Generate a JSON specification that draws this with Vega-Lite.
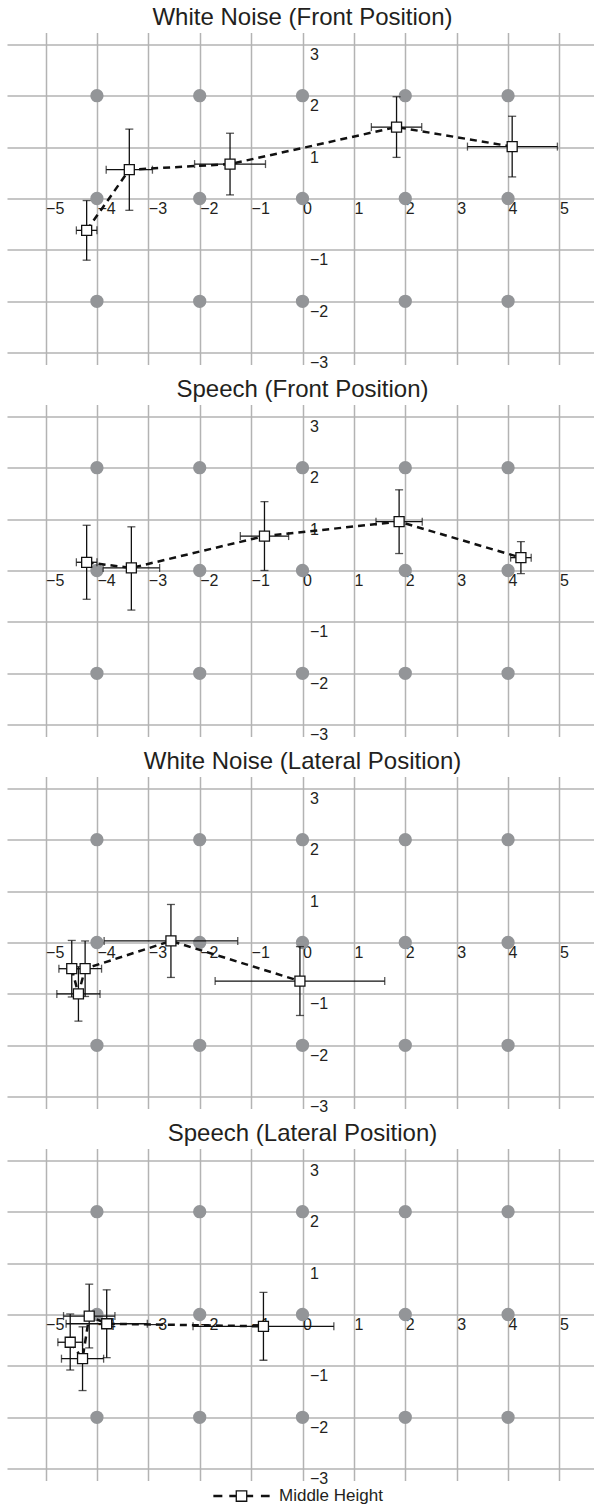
{
  "$schema": "https://vega.github.io/schema/vega-lite/v6.json",
  "padding": {"left": 7, "top": 5.5, "right": 0, "bottom": 0},
  "spacing": 6,
  "datasets": {
    "refdots": [
      {"x": -4, "y": 2}, {"x": -2, "y": 2}, {"x": 0, "y": 2}, {"x": 2, "y": 2}, {"x": 4, "y": 2},
      {"x": -4, "y": 0}, {"x": -2, "y": 0}, {"x": 0, "y": 0}, {"x": 2, "y": 0}, {"x": 4, "y": 0},
      {"x": -4, "y": -2}, {"x": -2, "y": -2}, {"x": 0, "y": -2}, {"x": 2, "y": -2}, {"x": 4, "y": -2}
    ],
    "pts": [
      {"panel": "WNF", "series": "Middle Height", "ord": 1, "x": -4.20, "y": -0.62, "xlo": -4.40, "xhi": -4.00, "ylo": -1.20, "yhi": -0.04},
      {"panel": "WNF", "series": "Middle Height", "ord": 2, "x": -3.37, "y": 0.56, "xlo": -3.82, "xhi": -2.92, "ylo": -0.23, "yhi": 1.35},
      {"panel": "WNF", "series": "Middle Height", "ord": 3, "x": -1.41, "y": 0.67, "xlo": -2.10, "xhi": -0.72, "ylo": 0.07, "yhi": 1.27},
      {"panel": "WNF", "series": "Middle Height", "ord": 4, "x": 1.83, "y": 1.39, "xlo": 1.34, "xhi": 2.32, "ylo": 0.80, "yhi": 1.98},
      {"panel": "WNF", "series": "Middle Height", "ord": 5, "x": 4.08, "y": 1.01, "xlo": 3.21, "xhi": 4.96, "ylo": 0.42, "yhi": 1.60},
      {"panel": "SF", "series": "Middle Height", "ord": 1, "x": -4.20, "y": 0.16, "xlo": -4.40, "xhi": -4.00, "ylo": -0.56, "yhi": 0.88},
      {"panel": "SF", "series": "Middle Height", "ord": 2, "x": -3.33, "y": 0.05, "xlo": -3.88, "xhi": -2.78, "ylo": -0.77, "yhi": 0.85},
      {"panel": "SF", "series": "Middle Height", "ord": 3, "x": -0.74, "y": 0.67, "xlo": -1.21, "xhi": -0.27, "ylo": 0.00, "yhi": 1.34},
      {"panel": "SF", "series": "Middle Height", "ord": 4, "x": 1.88, "y": 0.95, "xlo": 1.43, "xhi": 2.33, "ylo": 0.33, "yhi": 1.57},
      {"panel": "SF", "series": "Middle Height", "ord": 5, "x": 4.25, "y": 0.25, "xlo": 4.05, "xhi": 4.45, "ylo": -0.06, "yhi": 0.56},
      {"panel": "WNL", "series": "Middle Height", "ord": 1, "x": -4.49, "y": -0.51, "xlo": -4.74, "xhi": -4.24, "ylo": -1.06, "yhi": 0.04},
      {"panel": "WNL", "series": "Middle Height", "ord": 2, "x": -4.36, "y": -1.00, "xlo": -4.78, "xhi": -3.94, "ylo": -1.53, "yhi": -0.47},
      {"panel": "WNL", "series": "Middle Height", "ord": 3, "x": -4.23, "y": -0.51, "xlo": -4.55, "xhi": -3.91, "ylo": -1.05, "yhi": 0.03},
      {"panel": "WNL", "series": "Middle Height", "ord": 4, "x": -2.56, "y": 0.03, "xlo": -3.86, "xhi": -1.26, "ylo": -0.68, "yhi": 0.74},
      {"panel": "WNL", "series": "Middle Height", "ord": 5, "x": -0.05, "y": -0.75, "xlo": -1.70, "xhi": 1.60, "ylo": -1.42, "yhi": -0.08},
      {"panel": "SL", "series": "Middle Height", "ord": 1, "x": -4.52, "y": -0.54, "xlo": -4.76, "xhi": -4.28, "ylo": -1.08, "yhi": 0.01},
      {"panel": "SL", "series": "Middle Height", "ord": 2, "x": -4.28, "y": -0.86, "xlo": -4.69, "xhi": -3.87, "ylo": -1.48, "yhi": -0.24},
      {"panel": "SL", "series": "Middle Height", "ord": 3, "x": -4.15, "y": -0.03, "xlo": -4.65, "xhi": -3.65, "ylo": -0.65, "yhi": 0.59},
      {"panel": "SL", "series": "Middle Height", "ord": 4, "x": -3.81, "y": -0.18, "xlo": -4.60, "xhi": -3.02, "ylo": -0.84, "yhi": 0.48},
      {"panel": "SL", "series": "Middle Height", "ord": 5, "x": -0.76, "y": -0.23, "xlo": -2.13, "xhi": 0.61, "ylo": -0.89, "yhi": 0.43}
    ]
  },
  "vconcat": [
    {
      "title": "White Noise (Front Position)",
      "width": 591, "height": 332,
      "resolve": {"axis": {"x": "independent", "y": "independent"}},
      "layer": [
        {"data": {"name": "refdots"}, "mark": {"type": "circle", "size": 177, "color": "#939598", "opacity": 1},
         "encoding": {
           "x": {"field": "x", "type": "quantitative", "title": null, "scale": {"domain": [-5.75, 5.75], "nice": false, "zero": false}, "axis": {"orient": "bottom", "grid": true, "labels": false, "offset": 0, "tickCount": 11}},
           "y": {"field": "y", "type": "quantitative", "title": null, "scale": {"domain": [-3.23, 3.23], "nice": false, "zero": false}, "axis": {"orient": "left", "grid": true, "labels": false, "offset": 0, "tickCount": 7}}}},
        {"data": {"name": "pts"}, "transform": [{"filter": "datum.panel == 'WNF'"}],
         "mark": {"type": "errorbar", "ticks": {"size": 8}, "thickness": 1.3, "color": "#111"},
         "encoding": {"x": {"field": "xlo", "type": "quantitative", "title": null, "axis": null}, "x2": {"field": "xhi"}, "y": {"field": "y", "type": "quantitative", "title": null, "axis": null}}},
        {"data": {"name": "pts"}, "transform": [{"filter": "datum.panel == 'WNF'"}],
         "mark": {"type": "errorbar", "ticks": {"size": 8}, "thickness": 1.3, "color": "#111"},
         "encoding": {"y": {"field": "ylo", "type": "quantitative", "title": null, "axis": null}, "y2": {"field": "yhi"}, "x": {"field": "x", "type": "quantitative", "title": null, "axis": null}}},
        {"data": {"name": "pts"}, "transform": [{"filter": "datum.panel == 'WNF'"}],
         "mark": {"type": "line", "strokeDash": [7, 5], "strokeWidth": 2.5, "color": "#111"},
         "encoding": {"x": {"field": "x", "type": "quantitative", "title": null, "axis": null}, "y": {"field": "y", "type": "quantitative", "title": null, "axis": null}, "order": {"field": "ord", "type": "quantitative"}}},
        {"data": {"name": "pts"}, "transform": [{"filter": "datum.panel == 'WNF'"}],
         "mark": {"type": "square", "size": 100, "filled": true, "fill": "white", "stroke": "#111", "strokeWidth": 1.3, "opacity": 1},
         "encoding": {
           "x": {"field": "x", "type": "quantitative", "title": null, "axis": {"orient": "bottom", "grid": false, "offset": -166, "tickCount": 11}},
           "y": {"field": "y", "type": "quantitative", "title": null, "axis": {"orient": "left", "grid": false, "offset": -295.5, "tickCount": 7, "labelOffset": 15, "labelExpr": "datum.value == 0 ? '' : datum.label"}}}}
      ]
    },
    {
      "title": "Speech (Front Position)",
      "width": 591, "height": 332,
      "resolve": {"axis": {"x": "independent", "y": "independent"}},
      "layer": [
        {"data": {"name": "refdots"}, "mark": {"type": "circle", "size": 177, "color": "#939598", "opacity": 1},
         "encoding": {
           "x": {"field": "x", "type": "quantitative", "title": null, "scale": {"domain": [-5.75, 5.75], "nice": false, "zero": false}, "axis": {"orient": "bottom", "grid": true, "labels": false, "offset": 0, "tickCount": 11}},
           "y": {"field": "y", "type": "quantitative", "title": null, "scale": {"domain": [-3.23, 3.23], "nice": false, "zero": false}, "axis": {"orient": "left", "grid": true, "labels": false, "offset": 0, "tickCount": 7}}}},
        {"data": {"name": "pts"}, "transform": [{"filter": "datum.panel == 'SF'"}],
         "mark": {"type": "errorbar", "ticks": {"size": 8}, "thickness": 1.3, "color": "#111"},
         "encoding": {"x": {"field": "xlo", "type": "quantitative", "title": null, "axis": null}, "x2": {"field": "xhi"}, "y": {"field": "y", "type": "quantitative", "title": null, "axis": null}}},
        {"data": {"name": "pts"}, "transform": [{"filter": "datum.panel == 'SF'"}],
         "mark": {"type": "errorbar", "ticks": {"size": 8}, "thickness": 1.3, "color": "#111"},
         "encoding": {"y": {"field": "ylo", "type": "quantitative", "title": null, "axis": null}, "y2": {"field": "yhi"}, "x": {"field": "x", "type": "quantitative", "title": null, "axis": null}}},
        {"data": {"name": "pts"}, "transform": [{"filter": "datum.panel == 'SF'"}],
         "mark": {"type": "line", "strokeDash": [7, 5], "strokeWidth": 2.5, "color": "#111"},
         "encoding": {"x": {"field": "x", "type": "quantitative", "title": null, "axis": null}, "y": {"field": "y", "type": "quantitative", "title": null, "axis": null}, "order": {"field": "ord", "type": "quantitative"}}},
        {"data": {"name": "pts"}, "transform": [{"filter": "datum.panel == 'SF'"}],
         "mark": {"type": "square", "size": 100, "filled": true, "fill": "white", "stroke": "#111", "strokeWidth": 1.3, "opacity": 1},
         "encoding": {
           "x": {"field": "x", "type": "quantitative", "title": null, "axis": {"orient": "bottom", "grid": false, "offset": -166, "tickCount": 11}},
           "y": {"field": "y", "type": "quantitative", "title": null, "axis": {"orient": "left", "grid": false, "offset": -295.5, "tickCount": 7, "labelOffset": 15, "labelExpr": "datum.value == 0 ? '' : datum.label"}}}}
      ]
    },
    {
      "title": "White Noise (Lateral Position)",
      "width": 591, "height": 332,
      "resolve": {"axis": {"x": "independent", "y": "independent"}},
      "layer": [
        {"data": {"name": "refdots"}, "mark": {"type": "circle", "size": 177, "color": "#939598", "opacity": 1},
         "encoding": {
           "x": {"field": "x", "type": "quantitative", "title": null, "scale": {"domain": [-5.75, 5.75], "nice": false, "zero": false}, "axis": {"orient": "bottom", "grid": true, "labels": false, "offset": 0, "tickCount": 11}},
           "y": {"field": "y", "type": "quantitative", "title": null, "scale": {"domain": [-3.23, 3.23], "nice": false, "zero": false}, "axis": {"orient": "left", "grid": true, "labels": false, "offset": 0, "tickCount": 7}}}},
        {"data": {"name": "pts"}, "transform": [{"filter": "datum.panel == 'WNL'"}],
         "mark": {"type": "errorbar", "ticks": {"size": 8}, "thickness": 1.3, "color": "#111"},
         "encoding": {"x": {"field": "xlo", "type": "quantitative", "title": null, "axis": null}, "x2": {"field": "xhi"}, "y": {"field": "y", "type": "quantitative", "title": null, "axis": null}}},
        {"data": {"name": "pts"}, "transform": [{"filter": "datum.panel == 'WNL'"}],
         "mark": {"type": "errorbar", "ticks": {"size": 8}, "thickness": 1.3, "color": "#111"},
         "encoding": {"y": {"field": "ylo", "type": "quantitative", "title": null, "axis": null}, "y2": {"field": "yhi"}, "x": {"field": "x", "type": "quantitative", "title": null, "axis": null}}},
        {"data": {"name": "pts"}, "transform": [{"filter": "datum.panel == 'WNL'"}],
         "mark": {"type": "line", "strokeDash": [7, 5], "strokeWidth": 2.5, "color": "#111"},
         "encoding": {"x": {"field": "x", "type": "quantitative", "title": null, "axis": null}, "y": {"field": "y", "type": "quantitative", "title": null, "axis": null}, "order": {"field": "ord", "type": "quantitative"}}},
        {"data": {"name": "pts"}, "transform": [{"filter": "datum.panel == 'WNL'"}],
         "mark": {"type": "square", "size": 100, "filled": true, "fill": "white", "stroke": "#111", "strokeWidth": 1.3, "opacity": 1},
         "encoding": {
           "x": {"field": "x", "type": "quantitative", "title": null, "axis": {"orient": "bottom", "grid": false, "offset": -166, "tickCount": 11}},
           "y": {"field": "y", "type": "quantitative", "title": null, "axis": {"orient": "left", "grid": false, "offset": -295.5, "tickCount": 7, "labelOffset": 15, "labelExpr": "datum.value == 0 ? '' : datum.label"}}}}
      ]
    },
    {
      "title": "Speech (Lateral Position)",
      "width": 591, "height": 332,
      "resolve": {"axis": {"x": "independent", "y": "independent"}},
      "layer": [
        {"data": {"name": "refdots"}, "mark": {"type": "circle", "size": 177, "color": "#939598", "opacity": 1},
         "encoding": {
           "x": {"field": "x", "type": "quantitative", "title": null, "scale": {"domain": [-5.75, 5.75], "nice": false, "zero": false}, "axis": {"orient": "bottom", "grid": true, "labels": false, "offset": 0, "tickCount": 11}},
           "y": {"field": "y", "type": "quantitative", "title": null, "scale": {"domain": [-3.23, 3.23], "nice": false, "zero": false}, "axis": {"orient": "left", "grid": true, "labels": false, "offset": 0, "tickCount": 7}}}},
        {"data": {"name": "pts"}, "transform": [{"filter": "datum.panel == 'SL'"}],
         "mark": {"type": "errorbar", "ticks": {"size": 8}, "thickness": 1.3, "color": "#111"},
         "encoding": {"x": {"field": "xlo", "type": "quantitative", "title": null, "axis": null}, "x2": {"field": "xhi"}, "y": {"field": "y", "type": "quantitative", "title": null, "axis": null}}},
        {"data": {"name": "pts"}, "transform": [{"filter": "datum.panel == 'SL'"}],
         "mark": {"type": "errorbar", "ticks": {"size": 8}, "thickness": 1.3, "color": "#111"},
         "encoding": {"y": {"field": "ylo", "type": "quantitative", "title": null, "axis": null}, "y2": {"field": "yhi"}, "x": {"field": "x", "type": "quantitative", "title": null, "axis": null}}},
        {"data": {"name": "pts"}, "transform": [{"filter": "datum.panel == 'SL'"}],
         "mark": {"type": "line", "strokeDash": [7, 5], "strokeWidth": 2.5},
         "encoding": {
           "x": {"field": "x", "type": "quantitative", "title": null, "axis": null},
           "y": {"field": "y", "type": "quantitative", "title": null, "axis": null},
           "order": {"field": "ord", "type": "quantitative"},
           "stroke": {"field": "series", "type": "nominal", "scale": {"range": ["#111111"]},
             "legend": {
               "title": null, "orient": "none", "legendX": 206, "legendY": 1435,
               "symbolType": "M-1,-0.025H-0.72V0.025H-1Z M-0.42,-0.025H-0.19V0.025H-0.42Z M0.19,-0.025H0.4V0.025H0.19Z M0.73,-0.025H1V0.025H0.73Z M-0.19,-0.19H0.19V0.19H-0.19Z",
               "symbolSize": 3025, "symbolStrokeWidth": 1.3, "symbolFillColor": "white", "symbolStrokeColor": "#111111",
               "labelFontSize": 17, "labelFont": "Liberation Sans", "labelColor": "#231f20", "labelOffset": 9,
               "encode": {"symbols": {"update": {"strokeDash": {"value": []}, "fill": {"value": "white"}, "stroke": {"value": "#111111"}, "strokeWidth": {"value": 1.3}, "opacity": {"value": 1}}}}
             }}
         }},
        {"data": {"name": "pts"}, "transform": [{"filter": "datum.panel == 'SL'"}],
         "mark": {"type": "square", "size": 100, "filled": true, "fill": "white", "stroke": "#111", "strokeWidth": 1.3, "opacity": 1},
         "encoding": {
           "x": {"field": "x", "type": "quantitative", "title": null, "axis": {"orient": "bottom", "grid": false, "offset": -166, "tickCount": 11}},
           "y": {"field": "y", "type": "quantitative", "title": null, "axis": {"orient": "left", "grid": false, "offset": -295.5, "tickCount": 7, "labelOffset": 15, "labelExpr": "datum.value == 0 ? '' : datum.label"}}}}
      ]
    }
  ],
  "config": {
    "view": {"stroke": null},
    "font": "Liberation Sans",
    "title": {"fontSize": 24, "fontWeight": "normal", "font": "Liberation Sans", "color": "#231f20", "anchor": "middle", "baseline": "alphabetic", "offset": 3},
    "axisX": {"domain": false, "ticks": false, "gridColor": "#b3b3b3", "gridWidth": 1.5, "labelAlign": "left", "labelBaseline": "alphabetic", "labelPadding": 15, "labelDx": 7, "labelFontSize": 16, "labelColor": "#231f20", "labelFont": "Liberation Sans", "labelOverlap": false, "labelFlush": false, "zindex": 0},
    "axisY": {"domain": false, "ticks": false, "gridColor": "#b3b3b3", "gridWidth": 1.5, "labelAlign": "left", "labelBaseline": "alphabetic", "labelPadding": -7, "labelFontSize": 16, "labelColor": "#231f20", "labelFont": "Liberation Sans", "labelOverlap": false, "labelFlush": false, "zindex": 0}
  }
}
